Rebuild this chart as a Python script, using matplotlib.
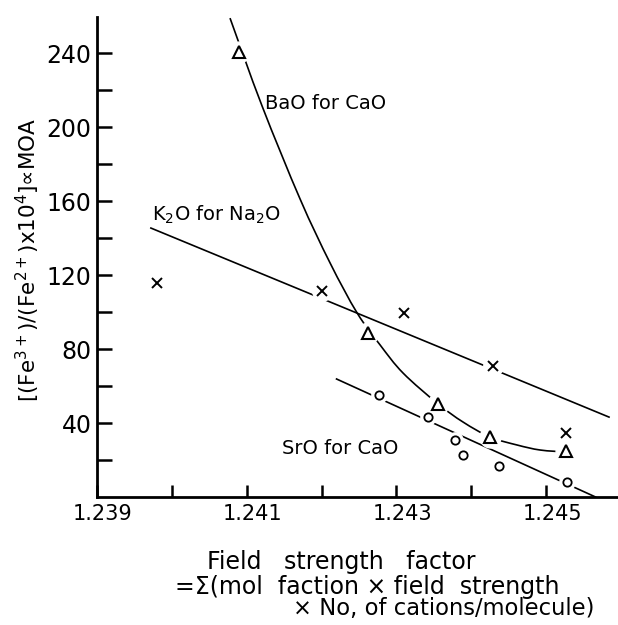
import numpy as np
import matplotlib
matplotlib.use("Agg")
import matplotlib.pyplot as plt
from matplotlib.path import Path
from matplotlib.patches import PathPatch
from matplotlib.transforms import ScaledTranslation

# ---- data ----
# BaO for CaO (open triangles)
bao_x = [1.24090, 1.24262, 1.24356, 1.24425, 1.24527]
bao_y = [240.5, 88.6, 50.3, 32.4, 24.9]
# BaO drawn curve
bao_curve_x = [1.240777, 1.241205, 1.241713, 1.242114, 1.242475, 1.242782,
               1.243089, 1.243557, 1.243891, 1.244252, 1.244613, 1.244920,
               1.245268]
bao_curve_y = [258.9, 211.4, 161.1, 126.5, 99.5, 82.2,
               67.0, 50.3, 40.5, 32.4, 28.1, 25.4,
               24.3]

# K2O for Na2O (crosses)
k2o_x = [1.23980, 1.24201, 1.24310, 1.24429, 1.24527]
k2o_y = [115.7, 111.4, 99.5, 70.8, 34.6]
k2o_line_x = [1.23972, 1.24584]
k2o_line_y = [145.4, 43.2]

# SrO for CaO (open circles)
sro_x = [1.24277, 1.24342, 1.24378, 1.24389, 1.24437, 1.24528]
sro_y = [55.1, 43.2, 30.8, 22.7, 16.8, 8.1]
sro_line_x = [1.24220, 1.24566]
sro_line_y = [63.8, 0.0]

x_ticks = [1.239, 1.240, 1.241, 1.242, 1.243, 1.244, 1.245]
x_labels = ["1.239", "", "1.241", "", "1.243", "", "1.245"]
y_ticks = [20, 40, 60, 80, 100, 120, 140, 160, 180, 200, 220, 240]
y_labels = ["", "40", "", "80", "", "120", "", "160", "", "200", "", "240"]

# ---- figure ----
plt.rcParams['font.family'] = ['DejaVu Sans']
fig = plt.figure(figsize=(6.18, 6.25), dpi=100)
ax = fig.add_axes([97/618, 1-497/625, 1-97/618, (497-17)/625])
ax.set_xlim(1.239, 1.24596)
ax.set_ylim(0, 259.5)

lw = 1.2

# smooth drawn curve through the read points (cubic Bezier segments)
pts = np.column_stack([bao_curve_x, bao_curve_y])
n = len(pts)
verts = [pts[0]]
codes = [Path.MOVETO]
for i in range(n - 1):
    p0 = pts[i - 1] if i > 0 else pts[i]
    p1 = pts[i]
    p2 = pts[i + 1]
    p3 = pts[i + 2] if i + 2 < n else pts[i + 1]
    verts += [p1 + (p2 - p0) / 6.0, p2 - (p3 - p1) / 6.0, p2]
    codes += [Path.CURVE4] * 3
ax.add_patch(PathPatch(Path(verts, codes), fill=False, edgecolor='black',
                       lw=lw, transform=ax.transData, zorder=2))

ax.plot(k2o_line_x, k2o_line_y, color='black', lw=lw, zorder=2)
ax.plot(sro_line_x, sro_line_y, color='black', lw=lw, zorder=2)

# white halos that break the lines around markers
for xs, ys, s in [(bao_x, bao_y, 15), (k2o_x, k2o_y, 14), (sro_x, sro_y, 11)]:
    ax.plot(xs, ys, linestyle='none', marker='o', markersize=s,
            markerfacecolor='white', markeredgecolor='white', zorder=3)

ax.plot(bao_x, bao_y, linestyle='none', marker='^', markersize=8,
        markerfacecolor='white', markeredgecolor='black', markeredgewidth=1.5, zorder=4)
ax.plot(k2o_x, k2o_y, linestyle='none', marker='x', markersize=6.5,
        color='black', markeredgewidth=1.4, zorder=4)
ax.plot(sro_x, sro_y, linestyle='none', marker='o', markersize=6,
        markerfacecolor='white', markeredgecolor='black', markeredgewidth=1.3, zorder=4)

# curve labels
ax.text(1.24125, 213, "BaO for CaO", fontsize=14, ha='left', va='center')
ax.text(1.23974, 152.4, "K$_2$O for Na$_2$O", fontsize=14, ha='left', va='center')
ax.text(1.24147, 26, "SrO for CaO", fontsize=14, ha='left', va='center')

# axes styling
for side in ['top', 'right']:
    ax.spines[side].set_visible(False)
for side in ['left', 'bottom']:
    ax.spines[side].set_linewidth(2.0)

ax.set_xticks(x_ticks)
ax.set_xticklabels(x_labels)
ax.set_yticks(y_ticks)
ax.set_yticklabels(y_labels)
ax.tick_params(axis='x', direction='in', length=9, width=1.8, pad=5, labelsize=15)
ax.tick_params(axis='y', direction='in', length=11, width=1.8, pad=4, labelsize=17)
shift = ScaledTranslation(6/100, 0, fig.dpi_scale_trans)
for lab in ax.get_xticklabels():
    lab.set_transform(lab.get_transform() + shift)

# y label
fig.text(28/618, 1-260/625,
         "[(Fe$^{3+}$)/(Fe$^{2+}$)x10$^{4}$]\u221dMOA",
         rotation=90, ha='center', va='center', fontsize=15.5)

# x label (three lines)
fig.text(207/618, 1-562/625, "Field   strength   factor",
         ha='left', va='center', fontsize=17)
fig.text(175/618, 1-587/625, "=\u03a3(mol  faction \u00d7 field  strength",
         ha='left', va='center', fontsize=17)
fig.text(293/618, 1-609/625, "\u00d7 No, of cations/molecule)",
         ha='left', va='center', fontsize=16.3)

fig.savefig("out.png", dpi=100)
